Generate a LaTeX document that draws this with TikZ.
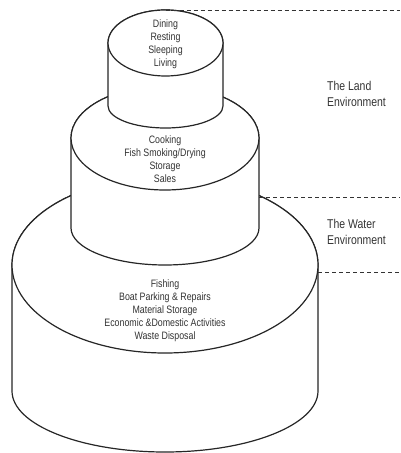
\documentclass[tikz,border=0pt]{standalone}
\usepackage{fontspec}
\setmainfont{Liberation Sans}[FakeStretch=0.82]
\usetikzlibrary{positioning}
\tikzset{
    tierwall/.style={draw=black!85, line width=1.2bp, fill=white},
    tiertext/.style={align=center, font=\fontsize{10.8}{13}\selectfont, text=black!80, inner sep=0pt},
    envlabel/.style={align=left, anchor=west, font=\fontsize{12.8}{16}\selectfont, text=black!80, inner sep=0pt},
    envdash/.style={draw=black!80, line width=0.9bp, dash pattern=on 4bp off 3bp}
}

\begin{document}
\begin{tikzpicture}[x=1bp, y=1bp]
        \useasboundingbox (0,0) rectangle (400,-453);
        % bottom tier: the water side
        \draw[tierwall] (12,-265) -- (12,-391) arc[start angle=180, end angle=360, x radius=153, y radius=61]
            -- (318,-265) arc[start angle=0, end angle=180, x radius=153, y radius=88] -- cycle;
        \draw[tierwall] (165,-265) ellipse[x radius=153, y radius=88];
        % middle tier
        \draw[tierwall] (71,-138) -- (71,-228) arc[start angle=180, end angle=360, x radius=94, y radius=37]
            -- (259,-138) arc[start angle=0, end angle=180, x radius=94, y radius=52] -- cycle;
        \draw[tierwall] (165,-138) ellipse[x radius=94, y radius=52];
        % top tier
        \draw[tierwall] (108,-43) -- (108,-106) arc[start angle=180, end angle=360, x radius=57.5, y radius=22]
            -- (223,-43) arc[start angle=0, end angle=180, x radius=57.5, y radius=33] -- cycle;
        \draw[tierwall] (165.5,-43) ellipse[x radius=57.5, y radius=33];
        % activities on each tier
        \node[tiertext] (living) at (165.5,-44) {Dining\\Resting\\Sleeping\\Living};
        \node[tiertext] (processing) at (165,-159.5) {Cooking\\Fish Smoking/Drying\\Storage\\Sales};
        \node[tiertext] (waterside) at (165,-310.5) {Fishing\\Boat Parking \& Repairs\\Material Storage\\Economic \&Domestic Activities\\Waste Disposal};
        % environment bands
        \coordinate (landtop) at (165.5,-10);
        \coordinate (landend) at (400,-10);
        \coordinate (shore) at (259,-197);
        \coordinate (shoreend) at (400,-197);
        \coordinate (waterfoot) at (318,-272);
        \coordinate (waterend) at (400,-272);
        \draw[envdash] (landtop) -- (landend);
        \draw[envdash] (shore) -- (shoreend);
        \draw[envdash] (waterfoot) -- (waterend);
        \node[envlabel] (land) at (327,-94) {The Land\\Environment};
        \node[envlabel] (water) at (327,-232) {The Water\\Environment};
    \end{tikzpicture}
\end{document}
